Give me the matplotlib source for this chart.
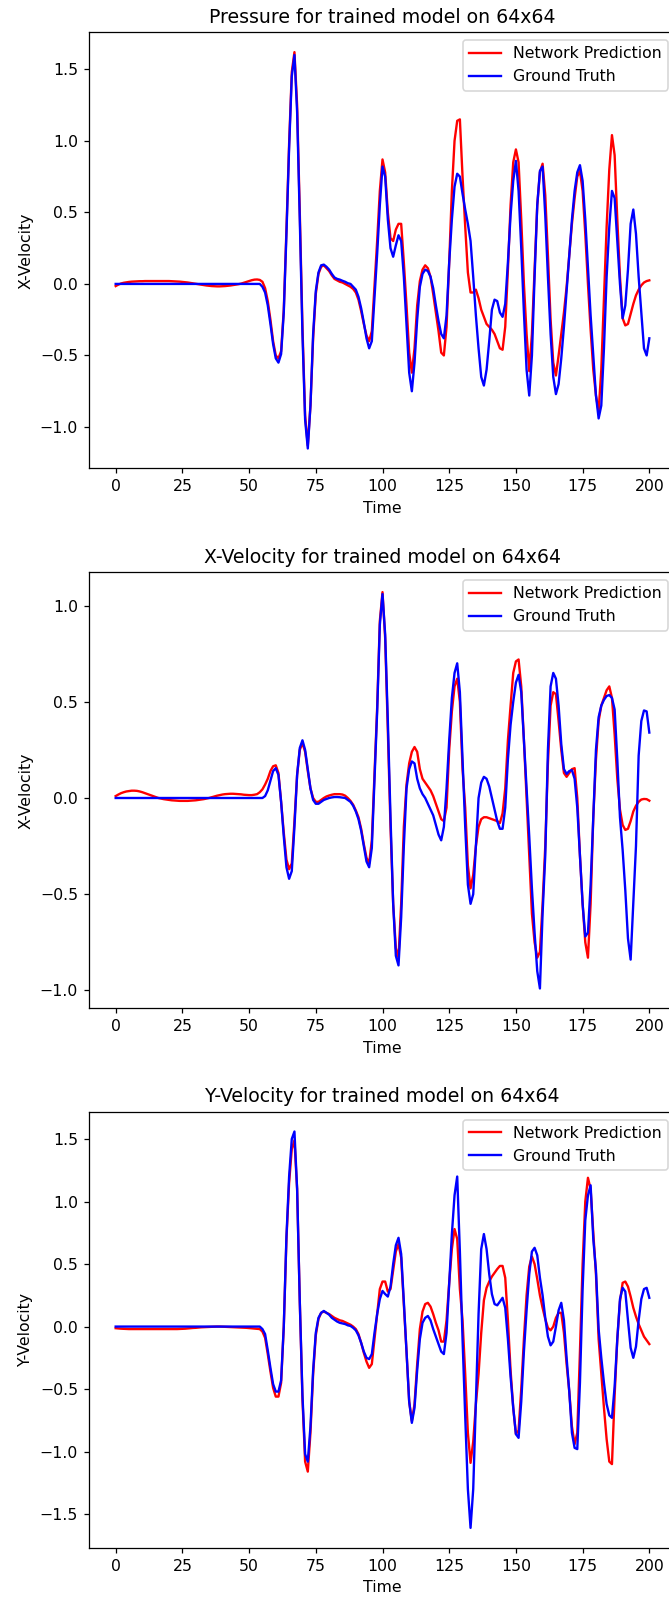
"""Network prediction vs ground truth for the three fields on the 64x64 grid."""

import matplotlib

matplotlib.use("Agg")
import matplotlib.pyplot as plt
import numpy as np

time = np.arange(0, 201)

pressure_pred = [
    -0.015, -0.005, 0.003, 0.008, 0.011, 0.014, 0.016, 0.017, 0.018, 0.019,
    0.019, 0.02, 0.02, 0.02, 0.02, 0.02, 0.02, 0.02, 0.02, 0.02,
    0.02, 0.019, 0.018, 0.017, 0.016, 0.014, 0.012, 0.01, 0.007, 0.004,
    0.001, -0.002, -0.005, -0.008, -0.011, -0.013, -0.015, -0.016, -0.017, -0.017,
    -0.016, -0.015, -0.013, -0.011, -0.008, -0.005, -0.002, 0.002, 0.008, 0.014,
    0.02, 0.026, 0.03, 0.031, 0.028, 0.015, -0.03, -0.12, -0.25, -0.4,
    -0.5, -0.52, -0.47, -0.18, 0.38, 0.98, 1.48, 1.62, 1.25, 0.5,
    -0.3, -0.92, -1.13, -0.85, -0.38, -0.07, 0.07, 0.12, 0.13, 0.11,
    0.09, 0.06, 0.035, 0.025, 0.015, 0.01, 0.0, -0.01, -0.02, -0.035,
    -0.06, -0.11, -0.19, -0.28, -0.36, -0.4, -0.33, -0.02, 0.3, 0.65,
    0.87, 0.78, 0.5, 0.32, 0.3, 0.38, 0.42, 0.42, 0.15, -0.15,
    -0.48, -0.62, -0.45, -0.15, 0.02, 0.1, 0.13, 0.11, 0.05, -0.07,
    -0.2, -0.33, -0.48, -0.5, -0.3, 0.15, 0.65, 1.0, 1.14, 1.15,
    0.75, 0.4, 0.08, -0.06, -0.06, -0.04, -0.1, -0.18, -0.23, -0.28,
    -0.3, -0.32, -0.35, -0.4, -0.45, -0.46, -0.3, 0.1, 0.55, 0.85,
    0.94, 0.85, 0.45, 0.0, -0.35, -0.61, -0.35, 0.1, 0.55, 0.78,
    0.84, 0.62, 0.2, -0.25, -0.55, -0.64, -0.5, -0.35, -0.2, -0.02,
    0.2, 0.42, 0.6, 0.75, 0.79, 0.65, 0.35, 0.0, -0.32, -0.6,
    -0.78, -0.89, -0.6, -0.1, 0.4, 0.8, 1.04, 0.9, 0.45, 0.05,
    -0.24, -0.29, -0.28, -0.21, -0.14, -0.08, -0.04, -0.01, 0.01, 0.02,
    0.025,
]

pressure_true = [0.0] * 50 + [
    0.0, 0.0, 0.0, 0.0, 0.0, -0.02, -0.06, -0.15, -0.28, -0.42,
    -0.52, -0.55, -0.49, -0.2, 0.35, 0.95, 1.45, 1.6, 1.2, 0.45,
    -0.35, -0.95, -1.15, -0.85, -0.35, -0.05, 0.08, 0.13, 0.135, 0.12,
    0.1, 0.07, 0.045, 0.035, 0.03, 0.022, 0.015, 0.005, 0.0, -0.02,
    -0.04, -0.09, -0.17, -0.27, -0.38, -0.45, -0.4, -0.1, 0.21, 0.55,
    0.82, 0.75, 0.45, 0.25, 0.19, 0.27, 0.34, 0.3, 0.05, -0.28,
    -0.62, -0.75, -0.55, -0.25, -0.02, 0.07, 0.1, 0.09, 0.05, -0.03,
    -0.15, -0.26, -0.35, -0.38, -0.22, 0.15, 0.45, 0.68, 0.77, 0.75,
    0.63, 0.52, 0.42, 0.3, 0.05, -0.22, -0.45, -0.65, -0.71, -0.6,
    -0.4, -0.18, -0.11, -0.12, -0.2, -0.23, -0.14, 0.15, 0.48, 0.72,
    0.86, 0.65, 0.25, -0.2, -0.6, -0.78, -0.5, 0.05, 0.55, 0.79,
    0.82, 0.48, 0.05, -0.35, -0.65, -0.77, -0.7, -0.52, -0.3, -0.05,
    0.2, 0.45, 0.65, 0.78, 0.83, 0.72, 0.45, 0.12, -0.22, -0.5,
    -0.78, -0.94, -0.85, -0.45, 0.05, 0.4, 0.65, 0.6, 0.3, 0.0,
    -0.24, -0.15, 0.1, 0.42, 0.52, 0.35, 0.05, -0.2, -0.45, -0.5,
    -0.38,
]

xvel_pred = [
    0.01, 0.018, 0.025, 0.03, 0.034, 0.036, 0.038, 0.038, 0.037, 0.034,
    0.03, 0.025, 0.02, 0.015, 0.01, 0.005, 0.0, -0.003, -0.006, -0.008,
    -0.01, -0.012, -0.013, -0.014, -0.015, -0.015, -0.015, -0.015, -0.014, -0.013,
    -0.012, -0.01, -0.008, -0.006, -0.003, 0.0, 0.004, 0.008, 0.012, 0.015,
    0.018, 0.02, 0.021, 0.022, 0.022, 0.021, 0.02, 0.019, 0.017, 0.016,
    0.015, 0.015, 0.017, 0.02, 0.03, 0.045, 0.07, 0.1, 0.14, 0.165,
    0.17, 0.13, -0.02, -0.18, -0.32, -0.37, -0.34, -0.12, 0.12, 0.25,
    0.285, 0.24, 0.14, 0.05, 0.0, -0.02, -0.02, -0.01, 0.0, 0.008,
    0.013, 0.017, 0.02, 0.02, 0.02, 0.018, 0.012, 0.0, -0.015, -0.035,
    -0.065, -0.1, -0.16, -0.24, -0.31, -0.34, -0.22, 0.12, 0.47, 0.92,
    1.07, 0.83, 0.35, -0.15, -0.55, -0.78, -0.83, -0.55, -0.15, 0.07,
    0.18, 0.24, 0.265, 0.24, 0.15, 0.1, 0.08, 0.06, 0.04, 0.01,
    -0.03, -0.07, -0.11, -0.12, -0.05, 0.25, 0.45, 0.58, 0.62, 0.5,
    0.15, -0.05, -0.35, -0.47, -0.4, -0.25, -0.15, -0.11, -0.1, -0.1,
    -0.105, -0.11, -0.115, -0.12, -0.13, -0.08, 0.05, 0.3, 0.48, 0.65,
    0.71, 0.72, 0.58, 0.3, 0.0, -0.3, -0.6, -0.75, -0.83, -0.8,
    -0.55, -0.25, 0.18, 0.48, 0.55, 0.54, 0.4, 0.25, 0.13, 0.11,
    0.13, 0.15, 0.155, 0.0, -0.3, -0.55, -0.75, -0.83, -0.55, -0.1,
    0.2, 0.4, 0.48, 0.52, 0.56, 0.58, 0.52, 0.33, 0.1, -0.06,
    -0.14, -0.166, -0.16, -0.12, -0.07, -0.04, -0.02, -0.008, -0.005, -0.006,
    -0.014,
]

xvel_true = [0.0] * 50 + [
    0.0, 0.0, 0.0, 0.0, 0.0, 0.0, 0.01, 0.04, 0.09, 0.14,
    0.155, 0.12, -0.02, -0.2, -0.36, -0.42, -0.38, -0.15, 0.12, 0.26,
    0.3, 0.25, 0.15, 0.05, -0.01, -0.03, -0.03, -0.02, -0.01, -0.005,
    0.0, 0.003, 0.005, 0.005, 0.004, 0.002, 0.0, -0.01, -0.02, -0.04,
    -0.07, -0.11, -0.17, -0.25, -0.33, -0.36, -0.26, 0.1, 0.45, 0.9,
    1.06, 0.85, 0.4, -0.1, -0.55, -0.82, -0.87, -0.62, -0.25, 0.05,
    0.15, 0.19, 0.18, 0.1, 0.05, 0.02, 0.0, -0.03, -0.06, -0.09,
    -0.14, -0.19, -0.22, -0.15, 0.05, 0.3, 0.52, 0.65, 0.7, 0.55,
    0.2, -0.15, -0.45, -0.55, -0.5, -0.25, 0.0, 0.08, 0.11, 0.1,
    0.06, 0.0, -0.06, -0.12, -0.16, -0.16, -0.05, 0.2, 0.38, 0.5,
    0.6, 0.64, 0.55, 0.3, 0.05, -0.2, -0.47, -0.7, -0.9, -0.99,
    -0.6, -0.3, 0.25, 0.58, 0.65, 0.62, 0.48, 0.28, 0.15, 0.125,
    0.14, 0.145, 0.1, -0.05, -0.3, -0.55, -0.72, -0.7, -0.45, -0.1,
    0.25, 0.42, 0.48, 0.51, 0.53, 0.535, 0.52, 0.46, 0.2, -0.1,
    -0.27, -0.48, -0.73, -0.84, -0.55, -0.25, 0.22, 0.4, 0.455, 0.45,
    0.34,
]

yvel_pred = [
    -0.013, -0.015, -0.017, -0.018, -0.019, -0.02, -0.02, -0.02, -0.02, -0.02,
    -0.02, -0.02, -0.02, -0.02, -0.02, -0.02, -0.02, -0.02, -0.02, -0.02,
    -0.02, -0.02, -0.02, -0.02, -0.019, -0.018, -0.017, -0.015, -0.013, -0.011,
    -0.01, -0.008, -0.006, -0.005, -0.004, -0.003, -0.002, -0.001, 0.0, 0.0,
    -0.001, -0.002, -0.003, -0.004, -0.005, -0.006, -0.007, -0.008, -0.009, -0.01,
    -0.012, -0.014, -0.016, -0.018, -0.02, -0.04, -0.09, -0.22, -0.36, -0.49,
    -0.56, -0.56, -0.45, 0.0, 0.7, 1.15, 1.42, 1.49, 1.1, 0.2,
    -0.58, -1.08, -1.16, -0.85, -0.38, -0.07, 0.06, 0.11, 0.12, 0.11,
    0.1, 0.085, 0.07, 0.06, 0.05, 0.045, 0.035, 0.025, 0.015, 0.0,
    -0.02, -0.06, -0.13, -0.21, -0.28, -0.33, -0.3, -0.1, 0.1, 0.3,
    0.36, 0.36, 0.28, 0.3, 0.45, 0.6, 0.66, 0.55, 0.18, -0.2,
    -0.6, -0.755, -0.62, -0.3, -0.02, 0.12, 0.18, 0.19, 0.16, 0.1,
    0.03, -0.03, -0.12, -0.12, 0.05, 0.35, 0.62, 0.78, 0.7, 0.3,
    0.05, -0.38, -0.85, -1.09, -0.92, -0.62, -0.38, -0.05, 0.21, 0.31,
    0.36, 0.4, 0.43, 0.46, 0.485, 0.485, 0.39, 0.05, -0.35, -0.65,
    -0.86, -0.83, -0.5, -0.1, 0.25, 0.48, 0.56, 0.5, 0.38, 0.25,
    0.15, 0.06, -0.01, -0.03, 0.0, 0.07, 0.11, 0.11, -0.05, -0.3,
    -0.52, -0.8, -0.94, -0.85, -0.2, 0.5, 1.0, 1.19, 1.1, 0.75,
    0.42, -0.1, -0.38, -0.65, -0.9, -1.08, -1.1, -0.55, -0.1, 0.2,
    0.35, 0.36, 0.32, 0.24, 0.15, 0.08, 0.02, -0.03, -0.08, -0.11,
    -0.14,
]

yvel_true = [0.0] * 50 + [
    0.0, 0.0, 0.0, 0.0, 0.0, -0.02, -0.06, -0.19, -0.33, -0.46,
    -0.52, -0.52, -0.43, 0.0, 0.72, 1.2, 1.5, 1.56, 1.1, 0.2,
    -0.55, -1.02, -1.08, -0.8, -0.35, -0.05, 0.07, 0.11, 0.125, 0.11,
    0.095, 0.07, 0.055, 0.04, 0.03, 0.025, 0.02, 0.01, 0.005, -0.01,
    -0.03, -0.07, -0.13, -0.2, -0.25, -0.26, -0.22, -0.05, 0.1, 0.22,
    0.285, 0.26, 0.24, 0.32, 0.5, 0.65, 0.71, 0.58, 0.2, -0.2,
    -0.6, -0.77, -0.65, -0.35, -0.1, 0.03, 0.07, 0.085, 0.05, -0.02,
    -0.08, -0.14, -0.2, -0.22, -0.05, 0.35, 0.74, 1.05, 1.2, 0.6,
    -0.1, -0.72, -1.3, -1.61, -1.3, -0.6, 0.1, 0.62, 0.74, 0.62,
    0.42, 0.26, 0.18, 0.17, 0.2, 0.23, 0.15, -0.1, -0.4, -0.65,
    -0.86, -0.89, -0.6, -0.2, 0.13, 0.42, 0.6, 0.63, 0.57, 0.39,
    0.25, 0.07, -0.08, -0.15, -0.12, 0.0, 0.13, 0.19, 0.05, -0.25,
    -0.52, -0.85, -0.97, -0.98, -0.45, 0.3, 0.85, 1.05, 1.13, 0.7,
    0.45, -0.02, -0.25, -0.45, -0.62, -0.71, -0.73, -0.48, -0.1, 0.22,
    0.31, 0.28, 0.05, -0.17, -0.25, -0.16, 0.05, 0.22, 0.3, 0.31,
    0.23,
]

titles = [
    "Pressure for trained model on 64x64",
    "X-Velocity for trained model on 64x64",
    "Y-Velocity for trained model on 64x64",
]
ylabels = ["X-Velocity", "X-Velocity", "Y-Velocity"]


def plot_panel(ax, pred, true, title, ylabel):
    """One field: prediction in red, ground truth in blue."""
    ax.plot(time, pred, color="red", label="Network Prediction")
    ax.plot(time, true, color="blue", label="Ground Truth")
    ax.set_title(title)
    ax.set_xlabel("Time")
    ax.set_ylabel(ylabel)
    ax.legend(loc="upper right")


# the reference was rendered at a slightly higher dpi than 100
dpi = 113
fig = plt.figure(figsize=(669 / dpi, 1600 / dpi), dpi=dpi)

# the original was cropped on the right, so the axes run past the figure edge
left, width, height = 89 / 669, 587 / 669, 436 / 1600
bottoms = [1 - 468.3 / 1600, 1 - 1008.3 / 1600, 1 - 1547.7 / 1600]
series = [(pressure_pred, pressure_true), (xvel_pred, xvel_true), (yvel_pred, yvel_true)]

for bottom, (pred, true), title, ylabel in zip(bottoms, series, titles, ylabels):
    ax = fig.add_axes([left, bottom, width, height])
    plot_panel(ax, pred, true, title, ylabel)

fig.savefig("out.png", dpi=dpi)
plt.close(fig)
